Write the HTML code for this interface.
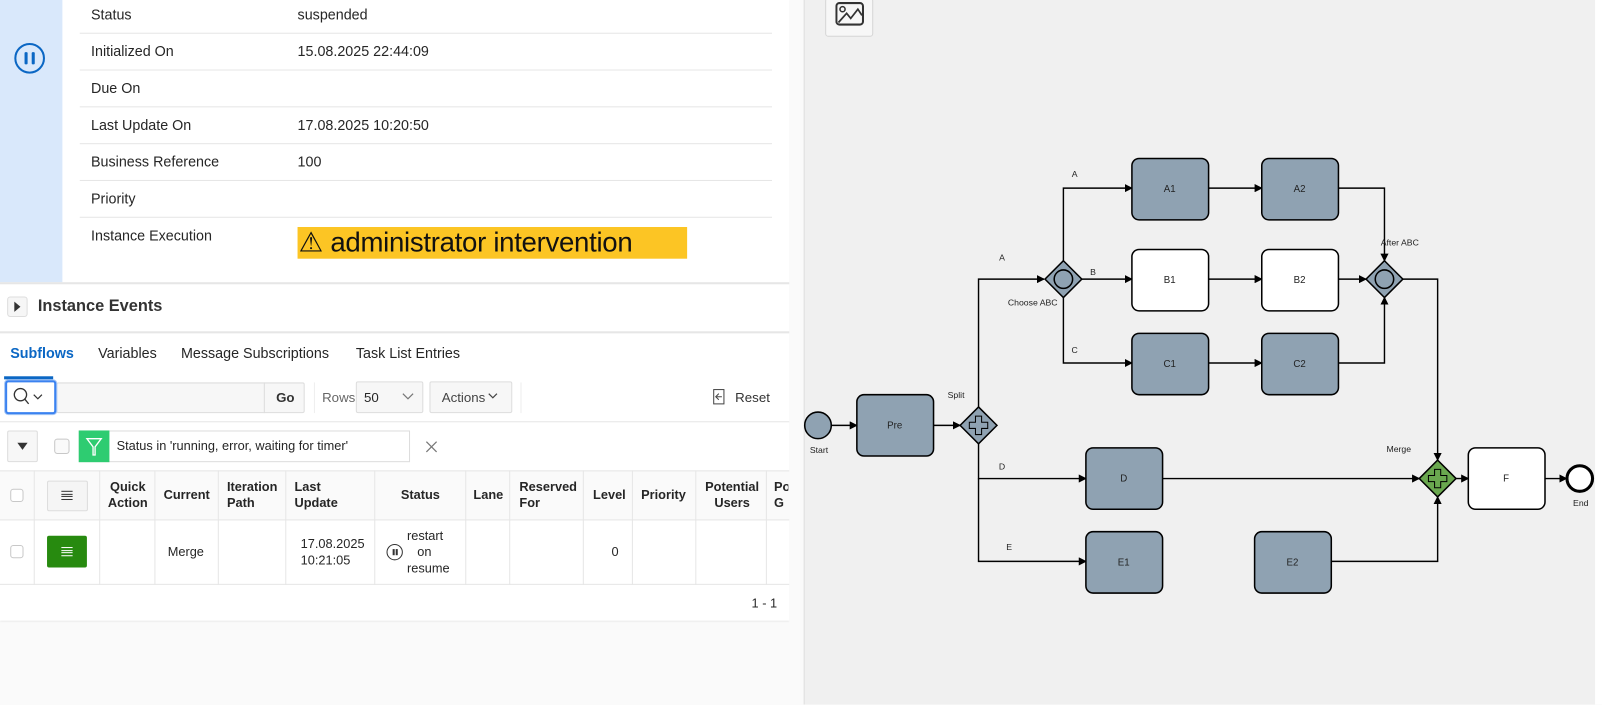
<!DOCTYPE html>
<html><head><meta charset="utf-8"><style>
*{box-sizing:border-box;margin:0;padding:0}
html,body{width:1602px;height:704px;overflow:hidden;background:#fafafa;font-family:"Liberation Sans",sans-serif;color:#262626}
#w{position:absolute;left:0;top:0;width:1567px;height:689px;transform:scale(1.0225);transform-origin:0 0}
.a{position:absolute}
.t{position:absolute;font-size:14px;white-space:nowrap}
.hl{position:absolute;height:1px;background:#e6e6e6}
.vl{position:absolute;width:1px;background:#e6e6e6}
.th{position:absolute;font-size:12.5px;font-weight:bold;line-height:16px;color:#262626}
.td{position:absolute;font-size:12.5px;line-height:16px}
.cb{position:absolute;width:13px;height:13px;border:1px solid #c8c8c8;border-radius:3px;background:#fff}
</style></head><body><div id="w">
<div class="a" style="left:0;top:0;width:772px;height:607px;background:#fff;box-shadow:0 1px 2px rgba(0,0,0,.12)"></div>
<div class="a" style="left:0;top:0;width:61px;height:276px;background:#d9e8fb"></div>
<div class="a" style="left:14px;top:42px;width:30px;height:30px;border:2px solid #0b67c4;border-radius:50%"></div>
<div class="a" style="left:24px;top:51px;width:3px;height:12px;background:#0b67c4;border-radius:1px"></div>
<div class="a" style="left:31px;top:51px;width:3px;height:12px;background:#0b67c4;border-radius:1px"></div>
<div class="t" style="left:89px;top:6px">Status</div><div class="t" style="left:291px;top:6px">suspended</div>
<div class="hl" style="left:78px;top:32px;width:677px"></div>
<div class="t" style="left:89px;top:42px">Initialized On</div><div class="t" style="left:291px;top:42px">15.08.2025 22:44:09</div>
<div class="hl" style="left:78px;top:68px;width:677px"></div>
<div class="t" style="left:89px;top:78px">Due On</div>
<div class="hl" style="left:78px;top:104px;width:677px"></div>
<div class="t" style="left:89px;top:114px">Last Update On</div><div class="t" style="left:291px;top:114px">17.08.2025 10:20:50</div>
<div class="hl" style="left:78px;top:140px;width:677px"></div>
<div class="t" style="left:89px;top:150px">Business Reference</div><div class="t" style="left:291px;top:150px">100</div>
<div class="hl" style="left:78px;top:176px;width:677px"></div>
<div class="t" style="left:89px;top:186px">Priority</div>
<div class="hl" style="left:78px;top:212px;width:677px"></div>
<div class="t" style="left:89px;top:222px">Instance Execution</div>
<div class="a" style="left:291px;top:222px;width:381px;height:31px;background:#fcc524"></div>
<div class="t" style="left:292px;top:222px;font-size:27px;line-height:31px;color:#111;letter-spacing:-0.3px">⚠ administrator intervention</div>
<div class="a" style="left:0;top:276px;width:772px;height:2px;background:#e6e6e6"></div>
<div class="a" style="left:7px;top:290px;width:20px;height:20px;border:1px solid #ddd;border-radius:3px;background:#f6f6f6"></div>
<div class="a" style="left:14px;top:295px;width:0;height:0;border-left:6px solid #333;border-top:5px solid transparent;border-bottom:5px solid transparent"></div>
<div class="t" style="left:37px;top:291px;font-size:16px;font-weight:bold;color:#333">Instance Events</div>
<div class="a" style="left:0;top:324px;width:772px;height:2px;background:#e6e6e6"></div>
<div class="t" style="left:10px;top:337px;color:#0b67c4;font-weight:bold">Subflows</div>
<div class="a" style="left:4px;top:368px;width:48px;height:3px;background:#0b67c4"></div>
<div class="t" style="left:96px;top:337px">Variables</div>
<div class="t" style="left:177px;top:337px">Message Subscriptions</div>
<div class="t" style="left:348px;top:337px">Task List Entries</div>
<div class="a" style="left:55px;top:374px;width:243px;height:30px;border:1px solid #ddd;background:#f7f7f7;border-radius:2px"></div>
<div class="a" style="left:258px;top:374px;width:40px;height:30px;border-left:1px solid #ddd"></div>
<div class="t" style="left:270px;top:381px;font-size:13px;font-weight:bold;color:#333">Go</div>
<div class="a" style="left:5px;top:372px;width:50px;height:33px;border:2px solid #3b82f0;border-radius:3px;background:#fff;box-shadow:0 0 0 1px #a9c8f5"></div>
<svg class="a" style="left:12px;top:379px" width="34" height="20"><circle cx="8" cy="7" r="6" fill="none" stroke="#333" stroke-width="1.3"/><line x1="12" y1="11" x2="16" y2="16" stroke="#333" stroke-width="1.3"/><polyline points="21,7 25,11 29,7" fill="none" stroke="#333" stroke-width="1.2"/></svg>
<div class="vl" style="left:307px;top:374px;height:30px;background:#eee"></div>
<div class="t" style="left:315px;top:381px;font-size:13px;color:#666">Rows</div>
<div class="a" style="left:348px;top:373px;width:66px;height:31px;border:1px solid #ddd;background:#f7f7f7;border-radius:2px"></div>
<div class="t" style="left:356px;top:381px;font-size:13px">50</div>
<svg class="a" style="left:393px;top:384px" width="12" height="8"><polyline points="1,1 6,6 11,1" fill="none" stroke="#777" stroke-width="1.2"/></svg>
<div class="a" style="left:420px;top:373px;width:81px;height:31px;border:1px solid #ddd;background:#f7f7f7;border-radius:2px"></div>
<div class="t" style="left:432px;top:381px;font-size:13px;color:#444">Actions</div>
<svg class="a" style="left:477px;top:384px" width="12" height="8"><polyline points="1,1 5,5 9,1" fill="none" stroke="#444" stroke-width="1.2"/></svg>
<div class="vl" style="left:509px;top:374px;height:30px;background:#eee"></div>
<svg class="a" style="left:697px;top:380px" width="14" height="16"><rect x="1" y="1" width="10" height="14" fill="none" stroke="#444"/><path d="M9 8 H4 M6 5 L3 8 L6 11" fill="none" stroke="#444"/></svg>
<div class="t" style="left:719px;top:381px;font-size:13px;color:#333">Reset</div>
<div class="a" style="left:0;top:412px;width:772px;height:1px;background:#e6e6e6"></div>
<div class="a" style="left:7px;top:421px;width:30px;height:31px;border:1px solid #ddd;background:#f7f7f7;border-radius:2px"></div>
<div class="a" style="left:17px;top:433px;width:0;height:0;border-top:7px solid #333;border-left:5px solid transparent;border-right:5px solid transparent"></div>
<div class="cb" style="left:53px;top:429px;width:15px;height:15px;background:#fafafa"></div>
<div class="a" style="left:77px;top:421px;width:324px;height:31px;border:1px solid #ddd;background:#fff"></div>
<div class="a" style="left:77px;top:421px;width:30px;height:31px;background:#2ecc71"></div>
<svg class="a" style="left:83px;top:427px" width="18" height="20"><path d="M2 2 H16 L10 10 V18 H8 V10 Z" fill="none" stroke="#fff" stroke-width="1.3"/></svg>
<div class="t" style="left:114px;top:429px;font-size:12.5px">Status in 'running, error, waiting for timer'</div>
<svg class="a" style="left:415px;top:430px" width="14" height="14"><path d="M2 2 L12 12 M12 2 L2 12" stroke="#777" stroke-width="1.2"/></svg>
<div class="a" style="left:0;top:460px;width:772px;height:48px;background:#fafafa"></div>
<div class="hl" style="left:0;top:460px;width:772px"></div>
<div class="hl" style="left:0;top:508px;width:772px"></div>
<div class="hl" style="left:0;top:571px;width:772px"></div>
<div class="vl" style="left:33px;top:460px;height:112px"></div>
<div class="vl" style="left:97px;top:460px;height:112px"></div>
<div class="vl" style="left:151px;top:460px;height:112px"></div>
<div class="vl" style="left:213px;top:460px;height:112px"></div>
<div class="vl" style="left:279px;top:460px;height:112px"></div>
<div class="vl" style="left:366px;top:460px;height:112px"></div>
<div class="vl" style="left:455px;top:460px;height:112px"></div>
<div class="vl" style="left:498px;top:460px;height:112px"></div>
<div class="vl" style="left:570px;top:460px;height:112px"></div>
<div class="vl" style="left:618px;top:460px;height:112px"></div>
<div class="vl" style="left:680px;top:460px;height:112px"></div>
<div class="vl" style="left:749px;top:460px;height:112px"></div>
<div class="cb" style="left:10px;top:478px"></div>
<div class="a" style="left:46px;top:470px;width:40px;height:30px;border:1px solid #ddd;border-radius:2px;background:#f5f5f5"></div>
<div class="a" style="left:60px;top:480px;width:11px;height:9px;border-top:1px solid #333;border-bottom:1px solid #333"></div>
<div class="a" style="left:60px;top:483px;width:11px;height:3px;border-top:1px solid #333;border-bottom:1px solid #333"></div>
<div class="th" style="left:104px;top:468px;text-align:center;width:42px">Quick Action</div>
<div class="th" style="left:160px;top:476px">Current</div>
<div class="th" style="left:222px;top:468px;width:50px">Iteration Path</div>
<div class="th" style="left:288px;top:468px;width:50px">Last Update</div>
<div class="th" style="left:392px;top:476px">Status</div>
<div class="th" style="left:463px;top:476px">Lane</div>
<div class="th" style="left:508px;top:468px;width:58px">Reserved For</div>
<div class="th" style="left:580px;top:476px">Level</div>
<div class="th" style="left:627px;top:476px">Priority</div>
<div class="th" style="left:686px;top:468px;text-align:center;width:60px">Potential Users</div>
<div class="th" style="left:757px;top:468px;width:14px;overflow:hidden">Po G</div>
<div class="cb" style="left:10px;top:533px"></div>
<div class="a" style="left:46px;top:524px;width:39px;height:31px;background:#278a0f;border-radius:2px"></div>
<div class="a" style="left:60px;top:535px;width:11px;height:9px;border-top:1px solid #fff;border-bottom:1px solid #fff"></div>
<div class="a" style="left:60px;top:538px;width:11px;height:3px;border-top:1px solid #fff;border-bottom:1px solid #fff"></div>
<div class="td" style="left:164px;top:532px">Merge</div>
<div class="td" style="left:294px;top:524px">17.08.2025<br>10:21:05</div>
<div class="a" style="left:378px;top:532px;width:16px;height:16px;border:1.3px solid #333;border-radius:50%"></div>
<div class="a" style="left:384px;top:537px;width:1.5px;height:6px;background:#333"></div>
<div class="a" style="left:387px;top:537px;width:1.5px;height:6px;background:#333"></div>
<div class="td" style="left:398px;top:516px;text-align:center;width:34px">restart on resume</div>
<div class="td" style="left:598px;top:532px">0</div>
<div class="td" style="left:735px;top:582px">1 - 1</div>
<div class="a" style="left:772px;top:0;width:15px;height:689px;background:#fafafa"></div>
<div class="a" style="left:786px;top:0;width:774px;height:689px;background:#f0f0f0;border-left:1px solid #e0e0e0"></div>
<div class="a" style="left:1560px;top:0;width:7px;height:689px;background:#fff"></div>
<div class="a" style="left:807px;top:-2px;width:47px;height:38px;background:#f7f7f7;border:1px solid #d6d6d6;border-radius:3px"></div>
<svg class="a" style="left:817px;top:2px" width="28" height="24"><rect x="1" y="1" width="26" height="21" rx="3" fill="none" stroke="#333" stroke-width="2"/><circle cx="7" cy="7" r="2.5" fill="none" stroke="#333" stroke-width="1.5"/><polyline points="3,20 11,11 15,16 22,7 26,13" fill="none" stroke="#333" stroke-width="1.7"/></svg>
<svg class="a" style="left:0;top:0" width="1567" height="689" font-family="Liberation Sans, sans-serif" font-size="9.5" fill="#222">
<defs><marker id="ar" markerWidth="8" markerHeight="8" refX="7" refY="4" orient="auto" markerUnits="userSpaceOnUse"><path d="M0,0 L8,4 L0,8 Z" fill="#000"/></marker></defs>
<g stroke="#000" stroke-width="1.4" fill="none" marker-end="url(#ar)">
<path d="M813 416 H838"/>
<path d="M913 416 H939"/>
<path d="M957 398 V273 H1021"/>
<path d="M957 434 V468 H1062"/>
<path d="M957 468 V549 H1062"/>
<path d="M1040 255 V184 H1107"/>
<path d="M1058 273 H1107"/>
<path d="M1040 291 V355 H1107"/>
<path d="M1182 184 H1234"/>
<path d="M1182 273 H1234"/>
<path d="M1182 355 H1234"/>
<path d="M1309 184 H1354 V255"/>
<path d="M1309 273 H1336"/>
<path d="M1309 355 H1354 V291"/>
<path d="M1372 273 H1406 V450"/>
<path d="M1137 468 H1388"/>
<path d="M1302 549 H1406 V486"/>
<path d="M1424 468 H1436"/>
<path d="M1511 468 H1532"/>
</g>
<g stroke="#000" stroke-width="1.5">
<rect x="838" y="386" width="75" height="60" rx="7" fill="#8fa2b2"/>
<rect x="1107" y="155" width="75" height="60" rx="7" fill="#8fa2b2"/>
<rect x="1234" y="155" width="75" height="60" rx="7" fill="#8fa2b2"/>
<rect x="1107" y="244" width="75" height="60" rx="7" fill="#fff"/>
<rect x="1234" y="244" width="75" height="60" rx="7" fill="#fff"/>
<rect x="1107" y="326" width="75" height="60" rx="7" fill="#8fa2b2"/>
<rect x="1234" y="326" width="75" height="60" rx="7" fill="#8fa2b2"/>
<rect x="1062" y="438" width="75" height="60" rx="7" fill="#8fa2b2"/>
<rect x="1062" y="520" width="75" height="60" rx="7" fill="#8fa2b2"/>
<rect x="1227" y="520" width="75" height="60" rx="7" fill="#8fa2b2"/>
<rect x="1436" y="438" width="75" height="60" rx="7" fill="#fff"/>
<circle cx="800" cy="416" r="13" fill="#8fa2b2"/>
<circle cx="1545" cy="468" r="12.5" fill="#fff" stroke-width="3"/>
<path d="M957 398 L975 416 L957 434 L939 416 Z" fill="#8fa2b2"/>
<path d="M954 407 h6 v6 h6 v6 h-6 v6 h-6 v-6 h-6 v-6 h6 Z" fill="#8fa2b2" stroke-width="1"/>
<path d="M1040 255 L1058 273 L1040 291 L1022 273 Z" fill="#8fa2b2"/>
<circle cx="1040" cy="273" r="9" fill="#8fa2b2"/>
<path d="M1354 255 L1372 273 L1354 291 L1336 273 Z" fill="#8fa2b2"/>
<circle cx="1354" cy="273" r="9" fill="#8fa2b2"/>
<path d="M1406 450 L1424 468 L1406 486 L1388 468 Z" fill="#6aa84f"/>
<path d="M1403 459 h6 v6 h6 v6 h-6 v6 h-6 v-6 h-6 v-6 h6 Z" fill="#6aa84f" stroke-width="1"/>
</g>
<g text-anchor="middle">
<text x="875" y="419">Pre</text><text x="1144" y="188">A1</text><text x="1271" y="188">A2</text>
<text x="1144" y="277">B1</text><text x="1271" y="277">B2</text>
<text x="1144" y="359">C1</text><text x="1271" y="359">C2</text>
<text x="1099" y="471">D</text><text x="1099" y="553">E1</text><text x="1264" y="553">E2</text>
<text x="1473" y="471">F</text>
<text x="801" y="443" font-size="8.5">Start</text><text x="1546" y="495" font-size="8.5">End</text>
<text x="935" y="389" font-size="8.5">Split</text><text x="1010" y="299" font-size="8.5">Choose ABC</text>
<text x="1369" y="240" font-size="8.5">After ABC</text><text x="1368" y="442" font-size="8.5">Merge</text>
<text x="1051" y="173" font-size="8.5">A</text><text x="980" y="255" font-size="8.5">A</text>
<text x="1069" y="269" font-size="8.5">B</text><text x="1051" y="345" font-size="8.5">C</text>
<text x="980" y="459" font-size="8.5">D</text><text x="987" y="538" font-size="8.5">E</text>
</g>
</svg>
</div></body></html>
